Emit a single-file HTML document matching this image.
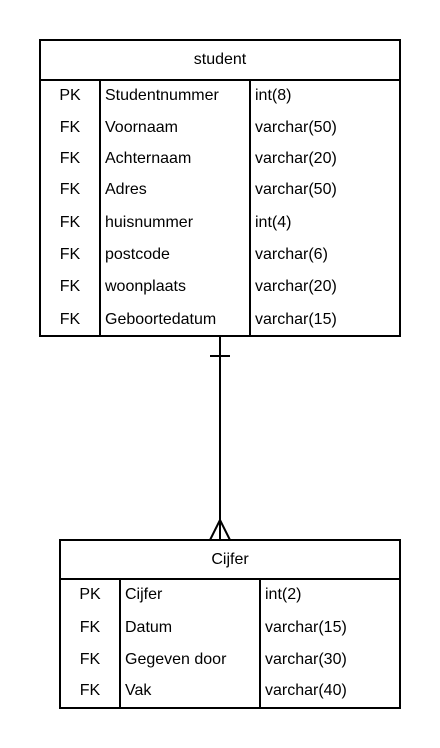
<!DOCTYPE html>
<html><head><meta charset="utf-8"><style>
html,body{margin:0;padding:0;background:#fff;}
svg{display:block;}
text{font-family:"Liberation Sans",Arial,sans-serif;font-size:16px;fill:#000;}
</style></head><body>
<svg width="440" height="748" viewBox="0 0 440 748" xmlns="http://www.w3.org/2000/svg">
<g stroke="#000" stroke-width="2" fill="none">
<rect x="40" y="40" width="360" height="296"/>
<line x1="40" y1="80" x2="400" y2="80"/>
<line x1="100" y1="80" x2="100" y2="336"/>
<line x1="250" y1="80" x2="250" y2="336"/>
<rect x="60" y="540" width="340" height="168"/>
<line x1="60" y1="579" x2="400" y2="579"/>
<line x1="120" y1="579" x2="120" y2="708"/>
<line x1="260" y1="579" x2="260" y2="708"/>
<line x1="220" y1="336" x2="220" y2="540"/>
<line x1="210" y1="356" x2="230" y2="356"/>
<path d="M210 540 L220 520 L230 540"/>
</g>
<text x="220" y="64" text-anchor="middle">student</text>
<g text-anchor="middle">
<text x="70" y="100">PK</text>
<text x="70" y="132">FK</text>
<text x="70" y="163">FK</text>
<text x="70" y="194">FK</text>
<text x="70" y="227">FK</text>
<text x="70" y="259">FK</text>
<text x="70" y="291">FK</text>
<text x="70" y="324">FK</text>
</g>
<text x="105" y="100">Studentnummer</text>
<text x="105" y="132">Voornaam</text>
<text x="105" y="163">Achternaam</text>
<text x="105" y="194">Adres</text>
<text x="105" y="227">huisnummer</text>
<text x="105" y="259">postcode</text>
<text x="105" y="291">woonplaats</text>
<text x="105" y="324">Geboortedatum</text>
<text x="255" y="100">int(8)</text>
<text x="255" y="132">varchar(50)</text>
<text x="255" y="163">varchar(20)</text>
<text x="255" y="194">varchar(50)</text>
<text x="255" y="227">int(4)</text>
<text x="255" y="259">varchar(6)</text>
<text x="255" y="291">varchar(20)</text>
<text x="255" y="324">varchar(15)</text>
<text x="230" y="564" text-anchor="middle">Cijfer</text>
<g text-anchor="middle">
<text x="90" y="599">PK</text>
<text x="90" y="632">FK</text>
<text x="90" y="664">FK</text>
<text x="90" y="695">FK</text>
</g>
<text x="125" y="599">Cijfer</text>
<text x="125" y="632">Datum</text>
<text x="125" y="664">Gegeven door</text>
<text x="125" y="695">Vak</text>
<text x="265" y="599">int(2)</text>
<text x="265" y="632">varchar(15)</text>
<text x="265" y="664">varchar(30)</text>
<text x="265" y="695">varchar(40)</text>
</svg>
</body></html>
